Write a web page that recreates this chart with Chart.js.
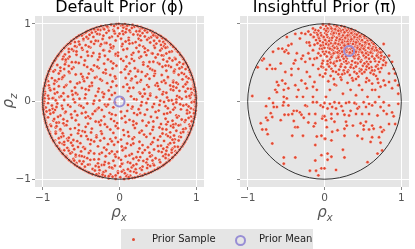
<!DOCTYPE html>
<html>
<head>
<meta charset="utf-8">
<script src="https://cdn.jsdelivr.net/npm/chart.js"></script>
<style>
  body { margin: 0; width: 415px; height: 249px; background: #fff; position: relative; overflow: hidden; font-family: "DejaVu Sans", sans-serif; }
  canvas { position: absolute; top: 0; }
  .lab { position: absolute; font-style: italic; font-size: 15px; color: #555; text-align: center; width: 30px; height: 20px; line-height: 20px; }
  .lab sub { font-size: 10px; }
  .legend { position: absolute; left: 121px; top: 229px; width: 192px; height: 20px; background: #e5e5e5; font-size: 10px; color: #222; }
  .legend span { position: absolute; top: 4px; }
  .dot { position: absolute; left: 11px; top: 9px; width: 3px; height: 3px; border-radius: 50%; background: #E24A33; }
  .ring { position: absolute; left: 114px; top: 6px; width: 7px; height: 7px; border-radius: 50%; border: 2px solid #988ED5; }
</style>
</head>
<body>
<canvas id="left" width="207" height="225" style="left:0"></canvas>
<canvas id="right" width="207" height="225" style="left:207px"></canvas>
<div class="lab" style="left:-7px;top:91px;transform:rotate(-90deg)">ρ<sub>z</sub></div>
<div class="lab" style="left:104px;top:202px">ρ<sub>x</sub></div>
<div class="lab" style="left:310px;top:202px">ρ<sub>x</sub></div>
<div class="legend">
  <div class="dot"></div><span style="left:31px">Prior Sample</span>
  <div class="ring"></div><span style="left:138px">Prior Mean</span>
</div>
<script>
const tickValues = [-1, 0, 1];
const axisMin = -1.1;
const axisMax = 1.1;
const panelTitles = ['Default Prior (ϕ)', 'Insightful Prior (π)'];
const defaultMean = [0, 0];
const insightfulMean = [0.32, 0.65];

// samples, one band of rho_z at a time, top to bottom
const defaultSamples = [
  [.12,.982],[-.26,.957],[.29,.951],[-.04,.993],[-.18,.974],[.21,.968],[-.29,.955],[.07,.961],[-.11,.988],[.25,.959],[-.22,.966],[.02,.979],[.17,.984],[-.27,.953],[.28,.958],[-.07,.971],[.07,.996],[-.15,.952],[.23,.971],[-.24,.97],[.05,.952],[-.01,.999],[.19,.96],[-.30,.95],
  [-.41,.908],[.33,.937],[-.08,.921],[.42,.903],[-.35,.934],[.16,.946],[-.43,.901],[.38,.917],[-.21,.942],[.04,.905],[-.39,.915],[.27,.926],[.43,.90],[-.30,.948],[.36,.929],[-.14,.911],[.30,.944],[-.37,.925],[.09,.933],[-.42,.906],[.40,.912],[-.25,.919],[.22,.903],[-.33,.94],
  [.49,.862],[-.52,.852],[-.17,.883],[.51,.856],[-.46,.874],[.36,.891],[-.50,.861],[.05,.868],[.47,.878],[-.31,.897],[.52,.853],[-.48,.869],[.24,.859],[-.44,.889],[.43,.884],[-.06,.876],[.50,.851],[-.39,.858],[.14,.893],[-.51,.857],[.45,.872],[-.26,.865],[.30,.88],[-.52,.85],
  [-.58,.812],[.55,.831],[-.21,.846],[.59,.805],[-.55,.828],[.12,.819],[-.59,.803],[.47,.842],[-.41,.81],[.57,.82],[-.53,.845],[.33,.837],[-.57,.816],[.02,.808],[.58,.811],[-.34,.831],[.54,.84],[-.56,.825],[.25,.807],[-.49,.849],[.56,.815],[-.10,.834],[.41,.826],[-.595,.80],
  [.63,.771],[-.64,.762],[.28,.787],[-.60,.796],[.65,.755],[-.37,.768],[.61,.789],[-.19,.753],[.52,.778],[-.65,.758],[.08,.772],[-.62,.781],[.64,.765],[-.47,.792],[.40,.759],[-.58,.764],[.60,.798],[-.05,.785],[.57,.766],[-.63,.775],[.17,.751],[-.28,.779],[.655,.752],[-.53,.77],
  [-.70,.708],[.68,.726],[-.33,.742],[.71,.702],[-.67,.737],[.45,.717],[-.69,.721],[.13,.745],[-.56,.704],[.66,.748],[-.71,.701],[.70,.711],[-.12,.73],[.59,.739],[-.675,.733],[.31,.706],[-.44,.725],[.69,.719],[-.64,.745],[.03,.713],[.67,.734],[-.25,.716],[.54,.728],[-.695,.714],
  [.74,.662],[-.73,.681],[.22,.69],[-.75,.655],[.72,.689],[-.48,.667],[.75,.652],[-.09,.684],[.62,.697],[-.74,.671],[.37,.658],[-.71,.698],[.73,.676],[-.60,.653],[.05,.666],[-.72,.688],[.55,.679],[-.38,.696],[.755,.65],[-.20,.661],[.70,.703],[-.66,.675],[.46,.692],[-.75,.66],
  [-.79,.607],[.77,.632],[-.42,.641],[.79,.611],[-.77,.628],[.16,.603],[-.78,.619],[.68,.644],[-.26,.612],[.78,.624],[-.66,.637],[.50,.606],[-.76,.645],[.795,.60],[-.02,.629],[.75,.648],[-.56,.602],[.33,.635],[-.79,.61],[.61,.617],[-.13,.646],[.76,.639],[-.71,.604],[.42,.622],
  [.82,.566],[-.81,.583],[.35,.597],[-.83,.555],[.80,.594],[-.50,.571],[.83,.551],[-.19,.588],[.72,.559],[-.82,.568],[.09,.576],[-.79,.598],[.81,.579],[-.67,.553],[.57,.592],[-.83,.55],[.26,.562],[-.36,.584],[.79,.60],[-.73,.575],[.65,.557],[-.05,.595],[.83,.556],[-.805,.586],
  [-.86,.503],[.85,.521],[-.28,.538],[.86,.508],[-.84,.534],[.44,.512],[-.85,.519],[.02,.547],[-.62,.506],[.835,.542],[-.855,.51],[.69,.528],[-.11,.514],[.855,.516],[-.74,.545],[.19,.523],[-.83,.548],[.78,.504],[-.45,.527],[.86,.502],[-.845,.526],[.57,.539],[-.70,.511],[.31,.503],
  [.88,.462],[-.87,.483],[.50,.497],[-.89,.452],[.87,.489],[-.33,.465],[.885,.455],[-.88,.471],[.13,.492],[-.66,.458],[.86,.498],[-.885,.457],[.75,.474],[-.04,.46],[-.87,.49],[.88,.468],[-.53,.495],[.37,.452],[-.81,.47],[.89,.451],[-.20,.487],[.64,.459],[-.88,.465],[.83,.482],
  [-.91,.408],[.90,.427],[-.42,.445],[.91,.412],[-.90,.432],[.24,.403],[-.915,.401],[.81,.441],[-.72,.418],[.895,.436],[-.09,.425],[.56,.447],[-.89,.448],[.91,.404],[-.60,.437],[.07,.414],[-.905,.422],[.72,.409],[-.27,.43],[.89,.443],[-.84,.404],[.40,.421],[-.905,.415],[.86,.417],
  [.93,.358],[-.92,.383],[.61,.396],[-.93,.36],[.92,.389],[-.50,.353],[.93,.366],[-.925,.371],[.29,.381],[-.77,.394],[.91,.398],[-.18,.362],[.84,.354],[-.92,.39],[.02,.375],[-.65,.368],[.935,.351],[-.35,.397],[.71,.372],[-.93,.355],[.46,.359],[-.86,.386],[.14,.39],[.92,.375],
  [-.95,.304],[.94,.327],[-.57,.348],[.95,.31],[-.94,.336],[.08,.302],[-.945,.318],[.77,.345],[-.30,.315],[.93,.344],[-.88,.301],[.45,.33],[-.95,.309],[.94,.33],[-.12,.341],[.63,.306],[-.93,.347],[.21,.323],[-.72,.331],[.95,.305],[-.42,.307],[.87,.319],[-.94,.325],[.36,.349],
  [.96,.261],[-.955,.287],[.39,.292],[-.96,.268],[.95,.296],[-.64,.255],[.965,.255],[-.95,.30],[.15,.274],[-.82,.259],[.94,.283],[-.05,.297],[-.965,.252],[.70,.266],[-.47,.288],[.955,.279],[-.93,.262],[.55,.253],[-.23,.27],[.90,.298],[-.955,.281],[.82,.285],[-.75,.293],[.27,.258],
  [-.97,.226],[.965,.248],[-.36,.203],[.975,.212],[-.96,.245],[.60,.238],[-.975,.205],[.10,.22],[.97,.231],[-.69,.214],[.88,.247],[-.16,.236],[-.97,.237],[.47,.209],[-.85,.229],[.96,.204],[-.52,.244],[.76,.225],[-.965,.218],[.23,.241],[-.92,.207],[.97,.22],[-.04,.203],[.70,.247],
  [.98,.168],[-.975,.192],[.32,.157],[-.985,.153],[.97,.196],[-.58,.18],[.985,.151],[-.27,.165],[.83,.191],[-.98,.174],[.05,.188],[.96,.16],[-.79,.197],[.67,.154],[-.97,.20],[.18,.177],[-.44,.158],[.975,.183],[-.91,.171],[.50,.199],[-.11,.185],[.93,.163],[-.985,.162],[.74,.178],
  [-.99,.113],[.985,.139],[-.40,.147],[.99,.104],[-.98,.142],[.57,.121],[-.992,.101],[.11,.133],[.975,.148],[-.73,.107],[.86,.128],[-.22,.115],[.99,.126],[-.985,.131],[.40,.101],[-.90,.145],[.70,.144],[-.06,.109],[.992,.10],[-.62,.136],[.26,.118],[-.97,.124],[.94,.11],[-.84,.102],
  [.995,.068],[-.99,.089],[.48,.055],[-.995,.061],[.98,.094],[-.31,.072],[.99,.082],[-.97,.097],[.15,.066],[-.78,.058],[.93,.086],[-.55,.093],[-.998,.052],[.75,.071],[-.10,.084],[.996,.057],[-.93,.074],[.33,.099],[-.985,.08],[.62,.051],[-.67,.065],[.87,.061],[-.20,.098],[.985,.077],
  [-.998,.032],[.99,.011],[-.45,.043],[.997,.038],[-.985,.007],[.22,.026],[-.99,.048],[.96,.003],[-.72,.019],[.04,.041],[-.995,.024],[.81,.035],[-.26,.014],[.995,.046],[-.92,.037],[.53,.009],[-.13,.03],[.985,.02],[-.86,.045],[.68,.016],[-.60,.028],[.92,.049],[-.975,.041],[.37,.034],
  [.998,-.018],[-.99,-.041],[.58,-.006],[-.997,-.013],[.985,-.047],[-.34,-.029],[.99,-.035],[-.98,-.002],[.11,-.044],[-.81,-.025],[.94,-.011],[-.52,-.049],[.995,-.026],[-.995,-.038],[.70,-.033],[-.06,-.015],[.87,-.04],[-.93,-.021],[.29,-.008],[-.67,-.045],[.45,-.031],[-.985,-.03],[-.19,-.04],[.975,-.005],
  [-.995,-.063],[.99,-.084],[-.29,-.097],[.997,-.055],[-.985,-.092],[.43,-.071],[-.99,-.058],[.97,-.099],[-.64,-.066],[.16,-.089],[-.96,-.078],[.83,-.052],[-.08,-.075],[.99,-.07],[-.87,-.094],[.60,-.06],[-.995,-.083],[.28,-.051],[-.47,-.079],[.93,-.088],[-.75,-.054],[.985,-.095],[-.17,-.062],[.72,-.081],
  [.99,-.112],[-.985,-.137],[.36,-.104],[-.99,-.118],[.98,-.146],[-.58,-.125],[.985,-.128],[-.975,-.148],[.02,-.131],[-.84,-.109],[.91,-.142],[-.31,-.115],[-.99,-.103],[.66,-.139],[-.13,-.146],[.97,-.107],[-.71,-.144],[.51,-.117],[-.95,-.128],[.80,-.101],[-.44,-.139],[.99,-.12],[-.91,-.112],[.19,-.149],
  [-.98,-.163],[.975,-.187],[-.49,-.152],[.985,-.159],[-.975,-.196],[.23,-.17],[-.985,-.155],[.96,-.199],[-.77,-.181],[.58,-.161],[-.97,-.184],[.88,-.153],[-.20,-.193],[.98,-.174],[-.90,-.158],[.41,-.197],[-.63,-.166],[.07,-.188],[-.98,-.17],[.74,-.179],[-.35,-.16],[.97,-.151],[-.05,-.175],[.93,-.194],
  [.97,-.214],[-.965,-.238],[.30,-.247],[-.975,-.205],[.96,-.243],[-.62,-.21],[.975,-.202],[-.96,-.249],[-.11,-.225],[.81,-.232],[-.97,-.219],[.49,-.208],[-.86,-.246],[.965,-.228],[-.38,-.217],[.13,-.236],[-.93,-.204],[.69,-.248],[-.97,-.231],[.90,-.211],[-.73,-.229],[.95,-.25],[-.24,-.244],[.60,-.222],
  [-.96,-.262],[.955,-.286],[-.53,-.299],[.96,-.258],[-.95,-.293],[.08,-.267],[-.965,-.253],[.91,-.297],[-.79,-.271],[.44,-.256],[-.955,-.281],[.73,-.289],[-.27,-.264],[.96,-.271],[-.90,-.30],[.22,-.284],[-.68,-.252],[.95,-.292],[-.41,-.285],[.85,-.26],[-.96,-.275],[.61,-.294],[-.07,-.252],[.94,-.255],
  [.945,-.318],[-.94,-.337],[.18,-.302],[-.95,-.309],[.935,-.343],[-.44,-.326],[.95,-.305],[-.93,-.349],[.67,-.314],[-.71,-.307],[.935,-.33],[-.02,-.345],[-.945,-.321],[.86,-.348],[-.25,-.303],[.52,-.335],[-.89,-.316],[.35,-.311],[-.94,-.33],[.95,-.31],[-.58,-.342],[.79,-.301],[-.83,-.335],[.92,-.32],
  [-.93,-.357],[.925,-.372],[-.37,-.398],[.93,-.36],[-.92,-.386],[.56,-.353],[-.925,-.367],[.90,-.395],[-.12,-.361],[-.83,-.39],[.74,-.377],[-.92,-.375],[.27,-.389],[-.64,-.352],[.915,-.399],[-.48,-.381],[.05,-.368],[.83,-.356],[-.905,-.394],[.43,-.364],[-.77,-.371],[.93,-.35],[-.24,-.384],[.66,-.397],
  [.905,-.418],[-.90,-.432],[.12,-.447],[-.91,-.408],[.895,-.443],[-.54,-.41],[.91,-.405],[-.885,-.449],[.61,-.426],[-.30,-.436],[.80,-.402],[-.90,-.426],[-.73,-.444],[.40,-.415],[.89,-.44],[-.08,-.404],[-.905,-.416],[.71,-.438],[-.63,-.429],[.26,-.401],[.90,-.43],[-.83,-.412],[-.43,-.445],[.53,-.449],
  [-.885,-.462],[.875,-.481],[-.60,-.496],[.885,-.458],[-.87,-.488],[.35,-.455],[-.89,-.453],[.86,-.499],[-.20,-.473],[.66,-.46],[-.88,-.471],[.02,-.49],[-.76,-.457],[.88,-.47],[-.41,-.485],[.50,-.494],[-.865,-.494],[.78,-.452],[-.05,-.466],[.87,-.49],[-.68,-.478],[.19,-.461],[-.84,-.50],[.72,-.487],
  [.86,-.506],[-.85,-.523],[.41,-.548],[-.86,-.509],[.84,-.539],[-.33,-.514],[.855,-.512],[-.835,-.547],[.71,-.529],[-.67,-.503],[.10,-.541],[-.85,-.52],[.85,-.525],[-.51,-.536],[.58,-.507],[-.15,-.549],[.83,-.546],[-.78,-.531],[.26,-.518],[-.86,-.505],[.77,-.502],[-.02,-.521],[-.74,-.544],[.845,-.53],
  [-.83,-.554],[.82,-.571],[-.45,-.597],[.83,-.553],[-.81,-.583],[.15,-.56],[-.825,-.562],[.79,-.596],[-.28,-.577],[.64,-.552],[-.80,-.598],[-.61,-.566],[.815,-.578],[.37,-.589],[-.07,-.557],[-.82,-.57],[.72,-.581],[-.72,-.555],[.50,-.572],[-.20,-.594],[.80,-.59],[-.54,-.586],[.03,-.579],[-.81,-.575],
  [.79,-.609],[-.775,-.626],[.24,-.648],[-.79,-.602],[.77,-.637],[-.59,-.614],[.785,-.615],[-.76,-.645],[-.17,-.62],[.61,-.633],[-.77,-.63],[.06,-.604],[.73,-.641],[-.38,-.636],[.78,-.622],[-.67,-.606],[.45,-.617],[-.785,-.611],[-.03,-.647],[.69,-.605],[-.50,-.642],[.76,-.648],[.33,-.625],[-.72,-.628],
  [-.75,-.658],[.74,-.671],[-.52,-.697],[.75,-.654],[-.725,-.683],[.30,-.66],[-.745,-.665],[.71,-.699],[-.26,-.674],[.55,-.651],[-.72,-.693],[-.06,-.681],[.73,-.68],[-.62,-.655],[.13,-.692],[-.74,-.671],[.64,-.688],[-.40,-.662],[.745,-.663],[.42,-.694],[-.69,-.699],[.68,-.656],[-.13,-.667],[.72,-.69],
  [.70,-.708],[-.685,-.724],[.36,-.743],[-.705,-.705],[.67,-.739],[-.46,-.712],[.70,-.712],[-.66,-.748],[-.01,-.727],[.57,-.703],[-.695,-.717],[.18,-.736],[-.33,-.745],[.685,-.726],[-.57,-.706],[.47,-.73],[-.68,-.731],[.64,-.747],[-.18,-.704],[.27,-.715],[-.70,-.71],[.69,-.72],[-.60,-.74],[.08,-.705],
  [-.65,-.758],[.63,-.774],[-.28,-.796],[.655,-.754],[-.62,-.783],[.43,-.76],[-.645,-.762],[.59,-.799],[-.47,-.772],[.11,-.781],[-.63,-.775],[.52,-.753],[-.08,-.763],[.64,-.768],[-.56,-.792],[.25,-.757],[-.655,-.755],[.61,-.788],[-.38,-.751],[.04,-.797],[.35,-.786],[-.19,-.779],[.65,-.759],[-.60,-.799],
  [.58,-.812],[-.57,-.821],[.16,-.846],[-.59,-.805],[.55,-.833],[-.39,-.81],[.585,-.809],[-.53,-.847],[-.06,-.826],[.44,-.802],[-.58,-.814],[.30,-.838],[-.23,-.817],[.57,-.82],[-.49,-.803],[.03,-.804],[.51,-.849],[-.55,-.834],[-.13,-.845],[.37,-.815],[.22,-.806],[-.31,-.83],
  [-.51,-.857],[.49,-.87],[-.18,-.894],[.52,-.853],[-.47,-.879],[.27,-.86],[-.50,-.864],[.43,-.898],[-.35,-.869],[.05,-.885],[-.44,-.893],[.36,-.856],[-.09,-.861],[.50,-.862],[-.26,-.883],[.14,-.896],[-.52,-.851],[.46,-.88],[-.02,-.90],[.21,-.872],
  [.40,-.912],[-.38,-.924],[.10,-.947],[-.42,-.905],[.35,-.934],[-.21,-.91],[.41,-.908],[-.31,-.948],[-.02,-.921],[.27,-.943],[-.40,-.913],[.19,-.905],[-.12,-.938],[.38,-.92],[-.35,-.936],[.03,-.902],[-.27,-.928],
  [-.22,-.971],[.28,-.957],[-.05,-.993],[.17,-.982],[-.30,-.952],[.09,-.961],[-.14,-.988],[.24,-.966],[-.26,-.962],[.01,-.975],[.20,-.978],[-.19,-.958],[.12,-.991],[-.09,-.968],[.30,-.951],[-.28,-.955],[.06,-.997],[.14,-.955],
  // interior of the left disc, second pass
  [-.33,.93],[.13,.915],[-.16,.965],[.35,.925],[-.02,.945],[.26,.905],[-.28,.925],[.10,.975],[-.07,.905],[.33,.915],[-.20,.93],[.04,.985],
  [-.43,.83],[.18,.862],[-.02,.842],[.38,.813],[-.29,.87],[.08,.891],[-.47,.806],[.27,.847],[-.13,.821],[.44,.852],[-.36,.886],[.00,.873],[.49,.823],[-.22,.804],
  [-.52,.733],[.21,.764],[-.08,.708],[.48,.745],[-.31,.781],[.04,.739],[-.58,.712],[.36,.795],[-.17,.752],[.58,.709],[-.40,.706],[.12,.789],[.26,.723],[-.24,.737],[.45,.781],
  [-.62,.672],[.25,.641],[-.11,.693],[.53,.657],[-.34,.624],[.10,.679],[-.49,.688],[.43,.617],[-.21,.659],[.65,.638],[-.05,.611],[.33,.684],[-.56,.644],[.18,.626],[.60,.691],
  [-.70,.537],[.28,.578],[-.15,.541],[.62,.514],[-.41,.59],[.05,.523],[-.57,.505],[.47,.566],[-.26,.572],[.73,.546],[-.02,.588],[.39,.509],[-.65,.577],[.16,.548],[.55,.594],
  [-.77,.436],[.31,.474],[-.18,.408],[.67,.443],[-.46,.469],[.09,.451],[-.62,.42],[.52,.483],[-.29,.447],[.78,.425],[-.08,.491],[.43,.405],[-.71,.479],[.20,.428],[.60,.462],[-.37,.413],
  [-.79,.36],[.34,.327],[-.21,.372],[.71,.389],[-.48,.319],[.12,.355],[-.66,.384],[.55,.341],[-.32,.306],[.81,.368],[-.06,.322],[.46,.393],[-.74,.312],[.24,.387],[.63,.316],[-.40,.358],
  [-.84,.27],[.36,.211],[-.25,.286],[.74,.243],[-.55,.232],[.16,.294],[-.70,.203],[.58,.271],[-.36,.241],[.86,.221],[-.09,.258],[.49,.236],[-.79,.288],[.28,.276],[.66,.206],[-.46,.262],
  [-.85,.16],[.38,.188],[-.28,.127],[.78,.137],[-.57,.109],[.13,.174],[-.72,.185],[.61,.112],[-.39,.196],[.89,.166],[-.14,.142],[.52,.158],[-.81,.118],[.27,.102],[.70,.193],[-.49,.173],
  [-.87,.043],[.40,.078],[-.33,.011],[.78,.055],[-.61,.087],[.19,.031],[-.76,.068],[.64,.013],[-.44,.092],[.91,.072],[-.21,.057],[.56,.094],[-.83,.016],[.30,.064],[.74,.026],[-.52,.035],
  [-.88,-.052],[.35,-.019],[-.27,-.081],[.79,-.036],[-.58,-.011],[.17,-.068],[-.74,-.093],[.63,-.087],[-.42,-.026],[.90,-.063],[-.15,-.04],[.52,-.044],[-.82,-.071],[.25,-.099],[.74,-.012],[-.50,-.057],
  [-.86,-.141],[.33,-.169],[-.23,-.108],[.77,-.188],[-.55,-.176],[.10,-.121],[-.70,-.132],[.62,-.153],[-.41,-.191],[.88,-.113],[-.10,-.163],[.47,-.134],[-.80,-.197],[.27,-.148],[.70,-.104],[-.32,-.124],
  [-.85,-.225],[.38,-.271],[-.19,-.293],[.75,-.206],[-.57,-.242],[.03,-.216],[-.73,-.281],[.63,-.262],[-.44,-.207],[.86,-.239],[-.31,-.258],[.54,-.29],[-.82,-.273],[.18,-.255],[.70,-.297],[-.03,-.278],
  [-.82,-.318],[.29,-.376],[-.16,-.327],[.70,-.333],[-.53,-.371],[.11,-.393],[-.69,-.304],[.61,-.36],[-.36,-.349],[.83,-.392],[-.05,-.315],[.44,-.327],[-.77,-.356],[.20,-.341],[.77,-.307],[-.45,-.392],
  [-.79,-.473],[.32,-.426],[-.23,-.414],[.69,-.491],[-.50,-.443],[.06,-.432],[-.66,-.466],[.56,-.412],[-.37,-.496],[.80,-.458],[-.12,-.484],[.45,-.469],[-.74,-.409],[.17,-.482],[.63,-.445],[-.30,-.459],
  [-.72,-.52],[.30,-.561],[-.25,-.503],[.66,-.536],[-.47,-.589],[.08,-.597],[-.63,-.531],[.54,-.568],[-.38,-.548],[.76,-.583],[-.10,-.512],[.43,-.524],[-.68,-.596],[.18,-.54],[.62,-.587],[-.55,-.51],
  [-.66,-.633],[.26,-.604],[-.23,-.658],[.60,-.679],[-.45,-.61],[.04,-.627],[-.57,-.686],[.51,-.64],[-.33,-.669],[.68,-.621],[-.10,-.642],[.39,-.66],[-.64,-.668],[.16,-.674],[.57,-.608],
  [-.59,-.76],[.22,-.718],[-.14,-.794],[.53,-.781],[-.42,-.729],[.02,-.751],[-.52,-.766],[.40,-.706],[-.27,-.742],[.60,-.727],[-.05,-.711],[.31,-.764],[-.49,-.703],[.14,-.792],
  [-.45,-.838],[.11,-.872],[-.20,-.814],[.40,-.829],[-.32,-.888],[.01,-.835],[-.41,-.812],[.29,-.88],[-.10,-.851],[.45,-.821],[-.27,-.842],[.18,-.823],
  [-.30,-.937],[.07,-.923],[-.14,-.961],[.22,-.918],[-.05,-.951],[.33,-.932],[-.22,-.941],[.12,-.973]
];

// samples: sparse quadrants first, then the dense upper cluster
const insightfulSamples = [
  [-.76,-.06],[-.67,-.02],[-.62,-.07],[-.54,-.05],[-.53,-.01],[-.47,-.05],[-.40,-.12],[-.36,-.12],[-.32,-.14],[-.23,-.06],[-.20,-.16],[-.15,-.01],[-.10,-.01],[-.12,-.16],[-.05,-.05],[-.02,-.07],[-.02,-.19],[-.70,-.15],[-.76,-.21],[-.83,-.28],[-.74,-.24],[-.76,-.36],[-.81,-.36],[-.74,-.42],[-.68,-.54],[-.57,-.24],[-.52,-.17],[-.47,-.17],[-.40,-.25],[-.38,-.33],[-.35,-.33],[-.30,-.17],[-.27,-.21],[-.28,-.44],[-.42,-.44],[-.21,-.27],[-.12,-.28],[-.14,-.32],[-.10,-.45],[-.04,-.44],[.00,-.48],[-.53,-.72],[-.53,-.80],[-.38,-.72],[-.12,-.76],[-.04,-.69],[-.19,-.89],[-.11,-.89],[-.04,-.86],[.00,-.86],[-.12,-.56],[-.03,-.22],[-.25,-.05],[-.42,-.16],[-.66,-.07],[-.68,-.20],[-.08,-.95],
  [.00,-.02],[.07,-.03],[.13,-.01],[.19,-.02],[.22,-.06],[.28,-.02],[.32,-.01],[.41,-.03],[.45,-.07],[.51,-.01],[.58,-.03],[.66,-.01],[.77,-.01],[.84,-.05],[.96,-.03],[.04,-.09],[.10,-.07],[.15,-.09],[.24,-.12],[.34,-.12],[.43,-.09],[.54,-.07],[.62,-.05],[.73,-.07],[.77,-.12],[.88,-.14],[.00,-.19],[.09,-.16],[.09,-.22],[.17,-.16],[.26,-.17],[.32,-.18],[.41,-.16],[.49,-.16],[.58,-.16],[.69,-.18],[.81,-.16],[.90,-.19],[.02,-.24],[.13,-.26],[.28,-.26],[.37,-.31],[.47,-.28],[.54,-.26],[.51,-.31],[.62,-.31],[.64,-.35],[.73,-.33],[.77,-.37],[.84,-.29],[.92,-.29],[.03,-.33],[.10,-.39],[.17,-.37],[.26,-.35],[.29,-.31],[.43,-.44],[.51,-.36],[.58,-.36],[.01,-.48],[.09,-.50],[.26,-.44],[.62,-.46],[.71,-.46],[.75,-.39],[.49,-.48],[.60,-.52],[.73,-.53],[.69,-.67],[.75,-.63],[.04,-.67],[.09,-.71],[.04,-.75],[.24,-.62],[.26,-.72],[.15,-.88],[.56,-.78],[.39,-.02],
  [-.49,.83],[-.38,.87],[-.30,.88],[-.25,.87],[-.21,.90],[-.13,.89],[-.05,.88],[-.08,.83],[-.02,.83],[-.15,.83],[-.32,.81],[-.43,.74],[-.47,.72],[-.55,.68],[-.50,.66],[-.52,.64],[-.47,.62],[-.67,.64],[-.60,.68],[-.71,.47],[-.75,.42],[-.87,.44],[-.68,.42],[-.64,.42],[-.57,.49],[-.40,.49],[-.38,.53],[-.30,.55],[-.28,.59],[-.21,.62],[-.19,.55],[-.13,.55],[-.15,.66],[-.06,.68],[-.02,.64],[-.05,.59],[-.02,.53],[-.25,.51],[-.34,.42],[-.43,.34],[-.51,.38],[-.55,.27],[-.62,.25],[-.64,.15],[-.60,.21],[-.51,.23],[-.47,.17],[-.38,.21],[-.34,.15],[-.23,.17],[-.15,.19],[-.10,.15],[-.13,.25],[-.06,.34],[-.02,.32],[-.02,.44],[-.08,.42],[-.19,.32],[-.23,.38],[-.30,.27],[-.25,.23],[-.15,.06],[-.28,.06],[-.36,.06],[-.49,.04],[-.53,.06],[-.72,.04],[-.94,.07],[-.81,.53],[-.36,.62],[-.02,.76],[-.19,.72],[-.23,.76],[-.79,.55],[-.15,.47],[-.43,.42],[-.53,.15],[-.62,.12],
  [.77,.74],[.75,.64],[.73,.55],[.84,.59],[.88,.51],[.79,.47],[.90,.42],[.84,.36],[.92,.27],[.77,.27],[.79,.21],[.73,.19],[.66,.15],[.88,.17],[.96,.10],[.96,.21],[.92,.36],[.84,.25],[.69,.29],[.62,.23],[.54,.25],[.62,.15],[.49,.15],[.41,.08],[.34,.15],[.24,.10],[.15,.21],[.07,.15],[.02,.06],[.56,.06],[.71,.06],
  [-.12,.92],[-.05,.95],[.02,.97],[.08,.96],[.13,.98],[.18,.95],[.22,.97],[.27,.94],[.31,.93],[.36,.92],[.40,.91],[-.08,.91],[.00,.93],[.05,.92],[.11,.93],[.16,.91],[.24,.92],[.33,.90],[-.02,.99],[.06,.99],[.15,.96],[.20,.93],[.29,.91],[.38,.90],[.10,.90],[-.15,.94],
  [-.18,.86],[-.10,.88],[-.04,.85],[.01,.88],[.04,.83],[.09,.87],[.12,.84],[.15,.88],[.19,.85],[.22,.82],[.25,.87],[.28,.84],[.31,.88],[.34,.83],[.37,.86],[.41,.84],[.44,.88],[.47,.82],[.51,.85],[.55,.81],[.07,.81],[.17,.80],[.26,.80],[.38,.81],[.45,.80],[-.07,.81],[.00,.80],[.13,.89],[.21,.89],[.33,.85],[.40,.87],[.48,.86],[.58,.80],[-.14,.83],[.30,.81],[.24,.85],[.11,.86],[.36,.89],[.03,.86],[.43,.82],
  [-.20,.76],[-.13,.73],[-.06,.78],[-.02,.72],[.03,.76],[.06,.71],[.09,.79],[.12,.74],[.14,.77],[.17,.72],[.19,.78],[.21,.75],[.24,.71],[.26,.77],[.28,.73],[.31,.79],[.33,.75],[.35,.71],[.38,.77],[.40,.73],[.42,.79],[.45,.75],[.47,.71],[.50,.77],[.53,.73],[.56,.78],[.59,.72],[.62,.76],[.66,.71],[.08,.75],[.16,.70],[.23,.79],[.29,.70],[.37,.74],[.43,.71],[.48,.78],[.52,.70],[.01,.79],[-.09,.75],[.11,.71],[.20,.73],[.25,.74],[.34,.78],[.39,.70],[.46,.74],[.55,.75],[.60,.79],[.64,.74],[.05,.73],[.15,.79],
  [-.15,.66],[-.08,.62],[-.03,.68],[.02,.64],[.05,.69],[.08,.61],[.11,.66],[.14,.63],[.17,.68],[.20,.62],[.22,.66],[.25,.69],[.27,.63],[.30,.67],[.32,.61],[.35,.65],[.37,.69],[.40,.62],[.42,.67],[.45,.64],[.48,.69],[.50,.61],[.53,.66],[.56,.63],[.59,.68],[.62,.62],[.65,.66],[.69,.61],[.72,.68],[.13,.69],[.19,.65],[.24,.60],[.29,.64],[.34,.68],[.39,.66],[.44,.60],[.47,.65],[.51,.68],[.57,.60],[.61,.65],[.67,.69],[.00,.61],[.09,.67],[.28,.66],[.36,.62],[.43,.69],[.54,.62],[.06,.63],
  [-.10,.56],[-.02,.52],[.03,.58],[.07,.54],[.10,.59],[.13,.51],[.16,.56],[.20,.53],[.23,.58],[.26,.51],[.29,.55],[.33,.59],[.36,.52],[.39,.56],[.42,.50],[.45,.57],[.48,.53],[.51,.59],[.55,.51],[.58,.55],[.62,.58],[.66,.52],[.70,.57],[.77,.53],[.18,.59],[.31,.50],[.40,.59],[.53,.56],[.60,.51],[.08,.50],[.25,.55],[.47,.51],[.68,.59],
  [-.04,.45],[.04,.48],[.09,.42],[.14,.46],[.19,.41],[.22,.48],[.27,.44],[.31,.40],[.35,.47],[.38,.43],[.43,.49],[.46,.42],[.50,.46],[.54,.41],[.57,.48],[.61,.44],[.65,.40],[.69,.47],[.74,.43],[.12,.49],[.29,.49],[.41,.45],[.52,.49],[.02,.41],[.25,.40],[.58,.43],
  [.01,.36],[.08,.33],[.15,.38],[.21,.31],[.26,.36],[.33,.34],[.39,.38],[.44,.32],[.49,.36],[.55,.30],[.60,.37],[.67,.33],[.72,.38],[.18,.35],[.46,.39],[.36,.30],
  [.05,.26],[.13,.22],[.22,.28],[.30,.24],[.37,.27],[.45,.21],[.58,.27],[.70,.24],[.12,.29],[.41,.29],
  [.21,.91],[.26,.89],[.19,.87],[.32,.86],[.27,.82],[.35,.80],[.23,.76],[.30,.77],[.16,.82],[.39,.83],[.43,.77],[.14,.93],[.09,.94],[.04,.90],[-.01,.83],[.18,.74],[.32,.72],[.27,.68],[.41,.64],[.49,.72],[.57,.69],[.63,.70],[.70,.64],[.74,.59],
  [.02,.74],[.07,.68],[.12,.62],[.18,.57],[.23,.64],[.28,.58],[.33,.63],[.38,.58],[.44,.55],[.49,.63],[.54,.57],[.60,.63],[.65,.55],[.71,.51],[.76,.47],[.67,.45],[.62,.40],[.55,.45],[.48,.41],[.40,.50],[.34,.44],[.28,.52],[.21,.45],[.16,.52],[.09,.57],[.04,.52],[.00,.69],[-.05,.72],[-.11,.79],[.04,.94],[.12,.88],[.18,.91],[.26,.96],[.30,.85],[.35,.88],[.42,.86],[.46,.84],[.52,.82],[.49,.79],[.41,.76],[.36,.69],[.31,.74],[.26,.72],[.20,.80],[.14,.75],[.10,.82],[.06,.78],[.58,.74],[.62,.68],[.68,.66],[.73,.63],[.78,.57],[.80,.50],[.70,.42],[.64,.35],[.52,.38],[.42,.36],[.30,.38],[.23,.35],[.11,.39],[.06,.45],[-.03,.49],[.17,.63],[.22,.69],[.37,.65],[.46,.67],[.53,.76],[.52,.84],[.35,.93],[.02,.91],[-.09,.86],[.16,.97]
];

Chart.defaults.font.family = '"DejaVu Sans", sans-serif';

// grey panel background
const panelBackground = {
  id: 'panelBackground',
  beforeDraw(chart) {
    const a = chart.chartArea;
    const ctx = chart.ctx;
    ctx.save();
    ctx.fillStyle = '#e5e5e5';
    ctx.fillRect(a.left, a.top, a.right - a.left, a.bottom - a.top);
    ctx.restore();
  }
};

// unit circle drawn through the scales
const unitCircle = {
  id: 'unitCircle',
  afterDatasetsDraw(chart) {
    const xs = chart.scales.x, ys = chart.scales.y;
    const cx = xs.getPixelForValue(0), cy = ys.getPixelForValue(0);
    const rx = xs.getPixelForValue(1) - cx, ry = cy - ys.getPixelForValue(1);
    const ctx = chart.ctx;
    ctx.save();
    ctx.strokeStyle = '#333';
    ctx.lineWidth = 1;
    ctx.beginPath();
    ctx.ellipse(cx, cy, rx, ry, 0, 0, Math.PI * 2);
    ctx.stroke();
    ctx.restore();
  }
};

function tickText(v) {
  return v < 0 ? '\u2212' + Math.abs(v) : String(v);
}

function drawPanel(id, title, samples, mean, yAxisWidth, rightPad, showYLabels) {
  new Chart(document.getElementById(id), {
    type: 'scatter',
    data: {
      datasets: [
        {
          label: 'Prior Mean',
          data: [{ x: mean[0], y: mean[1] }],
          pointRadius: 5,
          borderWidth: 2,
          borderColor: '#988ED5',
          backgroundColor: 'rgba(0,0,0,0)',
          order: 0
        },
        {
          label: 'Prior Sample',
          data: samples.map(p => ({ x: p[0], y: p[1] })),
          pointRadius: 1.7,
          borderWidth: 0.6,
          borderColor: 'rgba(255,255,255,0.75)',
          backgroundColor: '#E24A33',
          order: 1
        }
      ]
    },
    options: {
      responsive: false,
      animation: false,
      events: [],
      layout: { padding: { left: 0, right: rightPad, top: 0, bottom: 0 }, autoPadding: false },
      plugins: {
        legend: { display: false },
        tooltip: { enabled: false },
        title: {
          display: true,
          fullSize: false,
          text: title,
          color: '#000',
          font: { size: 16, weight: 'normal', lineHeight: 1 },
          padding: { top: 0, bottom: 0 }
        }
      },
      scales: {
        x: {
          type: 'linear',
          min: axisMin,
          max: axisMax,
          afterBuildTicks: s => { s.ticks = tickValues.map(v => ({ value: v })); },
          afterFit: s => { s.height = 38; s.paddingLeft = 0; s.paddingRight = 0; },
          ticks: { color: '#555', font: { size: 10.5 }, padding: 2, maxRotation: 0, callback: tickText },
          grid: { color: '#fff', lineWidth: 1, tickLength: 3, tickColor: '#888' },
          border: { display: false }
        },
        y: {
          type: 'linear',
          min: axisMin,
          max: axisMax,
          afterBuildTicks: s => { s.ticks = tickValues.map(v => ({ value: v })); },
          afterFit: s => { s.width = yAxisWidth; s.paddingTop = 0; s.paddingBottom = 0; },
          ticks: { color: '#555', font: { size: 10.5 }, padding: 1, callback: v => showYLabels ? tickText(v) : '' },
          grid: { color: '#fff', lineWidth: 1, tickLength: 3, tickColor: '#888' },
          border: { display: false }
        }
      }
    },
    plugins: [panelBackground, unitCircle]
  });
}

drawPanel('left', panelTitles[0], defaultSamples, defaultMean, 35, 3, true);
drawPanel('right', panelTitles[1], insightfulSamples, insightfulMean, 33, 5, false);
</script>
</body>
</html>
